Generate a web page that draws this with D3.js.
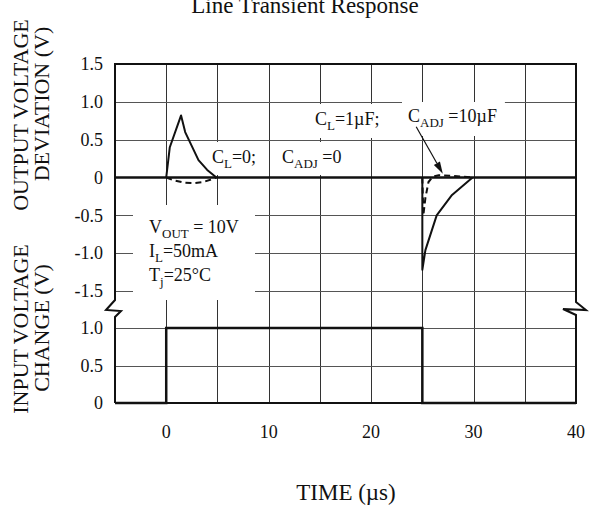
<!DOCTYPE html>
<html>
<head>
<meta charset="utf-8">
<script src="https://d3js.org/d3.v7.min.js"></script>
<style>
  body { margin: 0; background: #fff; }
  text { font-family: "Liberation Serif", "Times New Roman", serif; fill: #111; }
</style>
</head>
<body>
<script>
  // ---- data ----
  const gridTimes = [-5, 0, 5, 10, 15, 20, 25, 30, 35, 40];
  const timeTicks = [0, 10, 20, 30, 40];
  const outTicks = [1.5, 1.0, 0.5, 0, -0.5, -1.0, -1.5];
  const outTickLabels = ["1.5", "1.0", "0.5", "0", "-0.5", "-1.0", "-1.5"];
  const inTicks = [1.0, 0.5, 0];
  const inTickLabels = ["1.0", "0.5", "0"];

  // input step (V)
  const inputT = [-5, 0, 0, 25, 25, 40];
  const inputV = [0, 0, 1, 1, 0, 0];

  // output deviation, CL=0; CADJ=0 (solid)
  const solidRiseT = [0, 0.35, 1.45, 1.85, 3.15, 4.0, 4.9];
  const solidRiseV = [0, 0.4, 0.82, 0.6, 0.23, 0.1, 0];
  const solidFallT = [25, 25, 25.3, 26.4, 27.9, 29.9];
  const solidFallV = [0, -1.22, -0.96, -0.5, -0.23, 0];

  // output deviation, CL=1uF; CADJ=10uF (dashed)
  const dashRiseT = [0, 0.8, 1.8, 2.6, 3.6, 4.3, 4.9];
  const dashRiseV = [0, -0.04, -0.07, -0.075, -0.06, -0.03, 0];
  const dashFallT = [25, 25.1, 25.3, 25.6, 26.0, 26.6, 28.0, 29.9];
  const dashFallV = [0, -0.5, -0.27, -0.06, 0.01, 0.03, 0.02, 0];

  // arrow from the CADJ label to the dashed trace
  const arrowT = [24.4, 27.0];
  const arrowV = [0.67, 0.05];

  // ---- layout ----
  const breakY = 309;

  const svg = d3.select("body").append("svg")
    .attr("width", 592)
    .attr("height", 509);

  const x = d3.scaleLinear().domain([-5, 40]).range([115, 576]);
  const yTop = d3.scaleLinear().domain([-1.5, 1.5]).range([291, 64]);
  const yBot = d3.scaleLinear().domain([0, 1]).range([403, 328]);
  const snap = v => Math.round(v) + 0.5;   // crisp 1px grid lines

  const gGrid = svg.append("g");
  const gBox = svg.append("g");
  const gLines = svg.append("g");
  const gText = svg.append("g");

  // ---- grid ----
  gGrid.selectAll("line.v")
    .data(gridTimes.slice(1, -1))
    .enter().append("line")
    .attr("class", "v")
    .attr("x1", d => snap(x(d))).attr("x2", d => snap(x(d)))
    .attr("y1", yTop(1.5)).attr("y2", yBot(0))
    .attr("stroke", "#333").attr("stroke-width", 1)
    .attr("shape-rendering", "crispEdges");

  gGrid.selectAll("line.hu")
    .data(outTicks.filter(d => d !== 0 && d !== 1.5))
    .enter().append("line")
    .attr("class", "hu")
    .attr("x1", x(-5)).attr("x2", x(40))
    .attr("y1", d => snap(yTop(d))).attr("y2", d => snap(yTop(d)))
    .attr("stroke", "#555").attr("stroke-width", 1)
    .attr("shape-rendering", "crispEdges");

  gGrid.selectAll("line.hl")
    .data(inTicks.filter(d => d !== 0))
    .enter().append("line")
    .attr("class", "hl")
    .attr("x1", x(-5)).attr("x2", x(40))
    .attr("y1", d => snap(yBot(d))).attr("y2", d => snap(yBot(d)))
    .attr("stroke", "#555").attr("stroke-width", 1)
    .attr("shape-rendering", "crispEdges");

  // ---- annotations with white boxes under them ----
  // parts = [[text, isSub, backUp], ...]
  function subText(parts, tx, ty) {
    const t = gText.append("text")
      .attr("x", tx).attr("y", ty)
      .attr("font-size", 18);
    parts.forEach(p => {
      const s = t.append("tspan").text(p[0]);
      if (p[1]) s.attr("font-size", 13).attr("dy", 5);
      else if (p[2]) s.attr("dy", -5);
    });
    return t;
  }

  const boxes = [];
  function note(parts, tx, ty, pad) {
    const b = subText(parts, tx, ty).node().getBBox();
    boxes.push({
      x: b.x - pad[0], y: b.y - pad[1],
      w: Math.min(b.width + pad[0] + pad[2], 110),
      h: Math.min(b.height + pad[1] + pad[3], 34)
    });
  }
  note([["C"], ["L", true], ["=0;", false, true]], 212, 163, [3, 5, 6, 4]);
  note([["C"], ["ADJ", true], [" =0", false, true]], 282, 163, [7, 5, 4, 4]);
  note([["C"], ["L", true], ["=1\u00b5F;", false, true]], 315, 125, [10, 5, 6, 5]);
  note([["C"], ["ADJ", true], [" =10\u00b5F", false, true]], 408, 122, [6, 4, 8, 7]);

  const condLines = [
    [["V"], ["OUT", true], [" = 10V", false, true]],
    [["I"], ["L", true], ["=50mA", false, true]],
    [["T"], ["j", true], ["=25\u00b0C", false, true]]
  ];
  condLines.forEach((parts, i) => subText(parts, 149, 233 + i * 24));
  boxes.push({ x: 133, y: 205, w: 122, h: 95 });

  gBox.selectAll("rect")
    .data(boxes)
    .enter().append("rect")
    .attr("x", d => d.x).attr("y", d => d.y)
    .attr("width", d => d.w).attr("height", d => d.h)
    .attr("fill", "#fff");

  // ---- marks ----
  gLines.append("line")
    .attr("x1", x(-5)).attr("x2", x(40))
    .attr("y1", yTop(0)).attr("y2", yTop(0))
    .attr("stroke", "#111").attr("stroke-width", 2.5);

  // frame with break marks
  const fx0 = x(-5), fx1 = x(40), fTop = yTop(1.5), fBot = yBot(0);
  const frame = d3.path();
  frame.moveTo(fx0, fBot);
  frame.lineTo(fx0, breakY + 8);
  frame.lineTo(fx0 + 6, breakY + 2);
  frame.lineTo(fx0 - 9, breakY + 1);
  frame.lineTo(fx0, breakY - 9);
  frame.lineTo(fx0, fTop);
  frame.lineTo(fx1, fTop);
  frame.lineTo(fx1, breakY - 7);
  frame.lineTo(fx1 + 10, breakY + 1);
  frame.lineTo(fx1 - 13, breakY);
  frame.lineTo(fx1, breakY + 6);
  frame.lineTo(fx1, fBot);
  frame.lineTo(fx0, fBot);
  gLines.append("path")
    .attr("d", frame.toString())
    .attr("fill", "none")
    .attr("stroke", "#111")
    .attr("stroke-width", 2);

  const lineTop = d3.line().x(d => x(d[0])).y(d => yTop(d[1]));
  const lineBot = d3.line().x(d => x(d[0])).y(d => yBot(d[1]));
  const zip = (a, b) => a.map((t, i) => [t, b[i]]);

  gLines.append("path")
    .attr("d", lineBot(zip(inputT, inputV)))
    .attr("fill", "none").attr("stroke", "#111").attr("stroke-width", 2.5);

  [zip(solidRiseT, solidRiseV), zip(solidFallT, solidFallV)].forEach(pts => {
    gLines.append("path")
      .attr("d", lineTop(pts))
      .attr("fill", "none").attr("stroke", "#111")
      .attr("stroke-width", 2).attr("stroke-linejoin", "round");
  });

  [zip(dashRiseT, dashRiseV), zip(dashFallT, dashFallV)].forEach(pts => {
    gLines.append("path")
      .attr("d", lineTop(pts))
      .attr("fill", "none").attr("stroke", "#111")
      .attr("stroke-width", 2).attr("stroke-dasharray", "6,4");
  });

  // arrow
  const ax1 = x(arrowT[0]), ay1 = yTop(arrowV[0]);
  const ax2 = x(arrowT[1]), ay2 = yTop(arrowV[1]);
  const ang = Math.atan2(ay2 - ay1, ax2 - ax1);
  const headLen = 12, headHalf = 3.5;
  const hbx = ax2 - headLen * Math.cos(ang), hby = ay2 - headLen * Math.sin(ang);
  gLines.append("line")
    .attr("x1", ax1).attr("y1", ay1).attr("x2", hbx).attr("y2", hby)
    .attr("stroke", "#111").attr("stroke-width", 1.2);
  gLines.append("path")
    .attr("d", `M${ax2},${ay2} L${hbx - headHalf * Math.sin(ang)},${hby + headHalf * Math.cos(ang)} L${hbx + headHalf * Math.sin(ang)},${hby - headHalf * Math.cos(ang)} Z`)
    .attr("fill", "#111");

  // ---- remaining text ----
  gText.append("text")
    .attr("x", 305).attr("y", 13)
    .attr("text-anchor", "middle")
    .attr("font-size", 23)
    .text("Line Transient Response");

  gText.selectAll("text.yt")
    .data(outTicks)
    .enter().append("text")
    .attr("class", "yt")
    .attr("x", 103).attr("y", d => yTop(d))
    .attr("dy", "0.35em")
    .attr("text-anchor", "end")
    .attr("font-size", 18)
    .text((d, i) => outTickLabels[i]);

  gText.selectAll("text.yb")
    .data(inTicks)
    .enter().append("text")
    .attr("class", "yb")
    .attr("x", 103).attr("y", d => yBot(d))
    .attr("dy", "0.35em")
    .attr("text-anchor", "end")
    .attr("font-size", 18)
    .text((d, i) => inTickLabels[i]);

  gText.selectAll("text.xt")
    .data(timeTicks)
    .enter().append("text")
    .attr("class", "xt")
    .attr("x", d => x(d)).attr("y", 438)
    .attr("text-anchor", "middle")
    .attr("font-size", 18)
    .text(d => d);

  gText.append("text")
    .attr("x", 346).attr("y", 500)
    .attr("text-anchor", "middle")
    .attr("font-size", 23)
    .text("TIME (\u00b5s)");

  function vlabel(txt, tx, cy) {
    gText.append("text")
      .attr("transform", `translate(${tx},${cy}) rotate(-90)`)
      .attr("text-anchor", "middle")
      .attr("font-size", 22)
      .text(txt);
  }
  vlabel("OUTPUT VOLTAGE", 28, 115);
  vlabel("DEVIATION (V)", 49, 104);
  vlabel("INPUT VOLTAGE", 28, 329);
  vlabel("CHANGE (V)", 49, 328);
</script>
</body>
</html>
